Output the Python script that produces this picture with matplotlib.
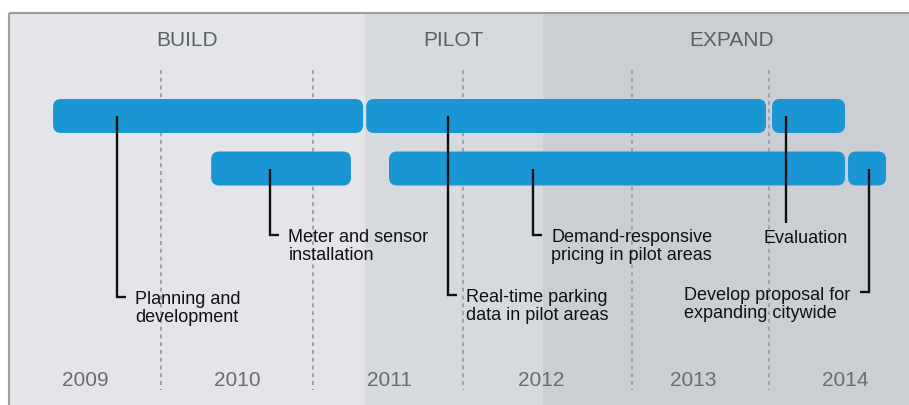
import matplotlib

matplotlib.use("Agg")
from matplotlib import pyplot as plt
from matplotlib.patches import FancyBboxPatch, Rectangle

plt.rcParams['font.family'] = ['Liberation Sans', 'DejaVu Sans']

# phases of the programme (years)
phase_names = ["BUILD", "PILOT", "EXPAND"]
phase_start = [2009.0, 2011.34, 2012.51]
phase_end = [2011.34, 2012.51, 2015.0]

years = [2009, 2010, 2011, 2012, 2013, 2014]
grid_years = [2010.0, 2011.0, 2011.99, 2013.1, 2014.0]

# tasks
task_names = ["Planning and\ndevelopment",
              "Meter and sensor\ninstallation",
              "Real-time parking\ndata in pilot areas",
              "Demand-responsive\npricing in pilot areas",
              "Evaluation",
              "Develop proposal for\nexpanding citywide"]
task_row = [0, 1, 0, 1, 0, 1]
task_start = [2009.29, 2010.33, 2011.35, 2011.5, 2014.02, 2014.52]
task_end = [2011.33, 2011.25, 2013.98, 2014.5, 2014.5, 2014.77]
task_marker = [2009.71, 2010.72, 2011.89, 2012.45, 2014.11, 2014.66]

# layout (pixel rows, y axis runs top->down)
W, H = 909, 405
row_y = [116, 168.5]
bar_h = 34
drop_y = [297, 235, 295, 235, 223, 292]
side = [1, 1, 1, 1, 0, -1]   # elbow to the right, none, or left
line_px = 20.5

phase_colors = ["#e3e5e8", "#d7dadd", "#cbcfd3"]
bar_color = "#1a96d4"

fig = plt.figure(figsize=(W / 100, H / 100), dpi=100)
ax = fig.add_axes([0, 0, 1, 1])
px_per_year = 152.0
x0 = 2009.0 - 9 / px_per_year
ax.set_xlim(x0, x0 + W / px_per_year)
ax.set_ylim(H, 0)
ax.axis("off")
px = 1 / px_per_year  # one pixel in years

# background panel
for s, e, c in zip(phase_start, phase_end, phase_colors):
    ax.add_patch(Rectangle((s, 13), e - s, H - 13, facecolor=c, edgecolor="none", zorder=0))
ax.plot([2009.0, 2009.0], [H, 13], color="#9c9c9c", lw=1.5, zorder=1, solid_capstyle="butt")
ax.plot([2009.0, 2015.0], [13, 13], color="#9c9c9c", lw=1.5, zorder=1, solid_capstyle="butt")

for name, s, e in zip(phase_names, phase_start, phase_end):
    ax.text((s + e) / 2, 41, name, ha="center", va="center", fontsize=15, color="#5c6065")

for yr in years:
    ax.text(yr + 0.5, 380, str(yr), ha="center", va="center", fontsize=15, color="#6a6c6e")

ax.vlines(grid_years, 70, 390, colors="#9ea2a6", linestyles=(0, (2, 2)), lw=1.4, zorder=1)

# bars
for r, s, e in zip(task_row, task_start, task_end):
    ax.add_patch(FancyBboxPatch((s, row_y[r] - bar_h / 2), e - s, bar_h,
                                boxstyle="round,pad=0,rounding_size=%f" % (8 * px),
                                mutation_aspect=px_per_year,
                                facecolor=bar_color, edgecolor="none", zorder=2))

# leader lines and labels
for name, r, m, dy, sd in zip(task_names, task_row, task_marker, drop_y, side):
    xs = [m, m]
    ys = [row_y[r], dy]
    if sd != 0:
        xs.append(m + sd * 9 * px)
        ys.append(dy)
    ax.plot(xs, ys, color="#111111", lw=1.7, zorder=3,
            solid_joinstyle="miter", solid_capstyle="butt")
    extra = (name.count("\n")) * line_px  # baseline refers to the last line
    if sd == 1:
        tx, ty, ha = m + 18 * px, dy + 5, "left"
    elif sd == -1:
        tx, ty, ha = m - 19 * px, dy + 6, "right"
    else:
        tx, ty, ha = m - 22 * px, dy + 20, "left"
    ax.text(tx, ty + extra, name, ha=ha, va="baseline", multialignment="left",
            fontsize=13, linespacing=1.14, color="#111111", zorder=3)

fig.savefig("out.png", dpi=100, facecolor="white")
